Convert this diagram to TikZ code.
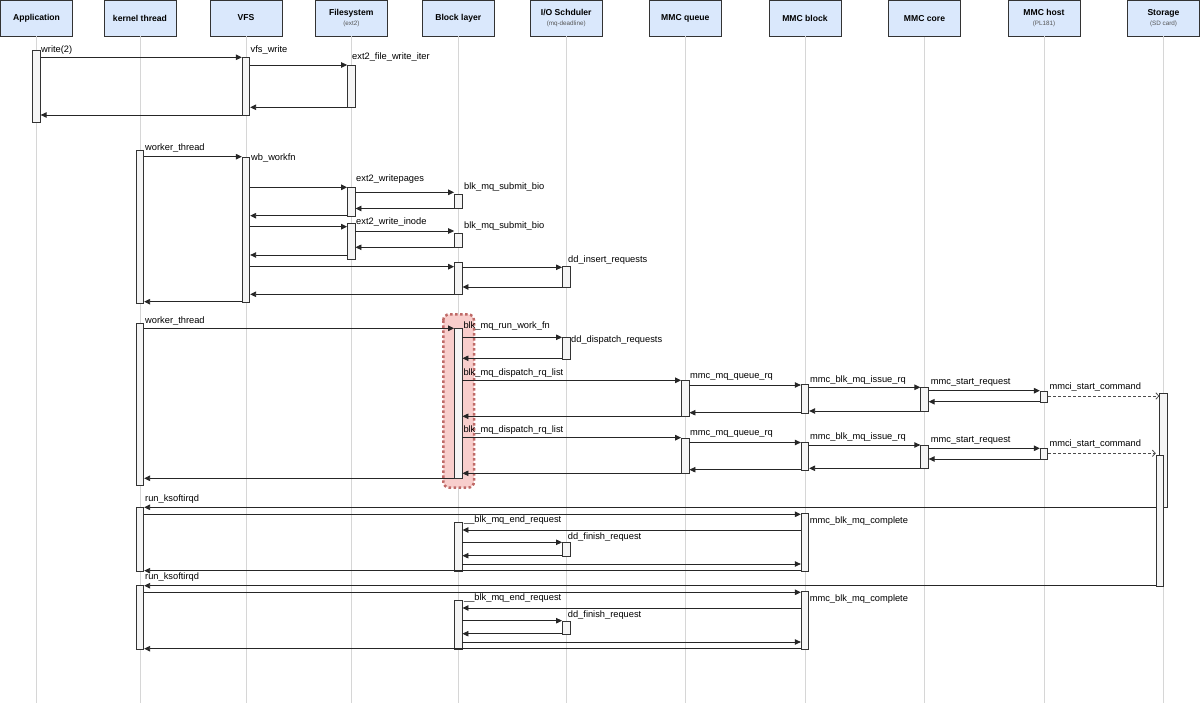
\documentclass[tikz,border=0pt]{standalone}
\usepackage{fontspec}
\setmainfont{Liberation Sans}
\usepackage{tikz}
\usetikzlibrary{arrows.meta,positioning}
\usepackage{xcolor}

\definecolor{headblue}{HTML}{DAE8FC}
\definecolor{edgegray}{HTML}{333333}
\definecolor{linegray}{HTML}{D6D6D6}
\definecolor{barfill}{HTML}{F5F5F5}
\definecolor{subgray}{HTML}{555555}
\definecolor{hired}{HTML}{BF6A67}
\definecolor{hifill}{HTML}{F8CECC}

\tikzstyle{head}=[draw=edgegray, fill=headblue, line width=0.8pt, minimum width=72pt, minimum height=36pt, inner sep=0pt, align=center, font=\fontsize{8.6}{10}\selectfont\bfseries]
\tikzstyle{lifeline}=[draw=linegray, line width=0.8pt]
\tikzstyle{bar}=[draw=edgegray, fill=barfill, line width=0.8pt, minimum width=7.5pt, inner sep=0pt, anchor=north]
\tikzstyle{msg}=[draw=black!85, line width=0.9pt, -{Triangle[length=6pt,width=5.5pt]}]
\tikzstyle{async}=[draw=black!70, line width=0.8pt, dash pattern=on 3pt off 2pt, -{Straight Barb[length=3pt,width=6.5pt]}]
\tikzstyle{call}=[anchor=west, inner sep=0pt, font=\fontsize{9.3}{11}\selectfont]
\tikzstyle{hilite}=[draw=hired, fill=hifill, rounded corners=6pt, line width=2.5pt, dash pattern=on 2.5pt off 2.5pt]

\newcommand{\headsub}[1]{{\fontsize{6.3}{7.5}\selectfont\mdseries\color{subgray}#1}}

\begin{document}
\begin{tikzpicture}[x=1pt,y=-1pt]
\useasboundingbox (0,0) rectangle (1200,703);

% heads
\node[head] (app) at (36.5,18) {Application};
\node[head] (kth) at (140,18) {kernel thread};
\node[head] (vfs) at (246,18) {VFS};
\node[head] (fs) at (351.3,18) {Filesystem\\\headsub{(ext2)}};
\node[head] (blk) at (458.3,18) {Block layer};
\node[head] (ios) at (566.2,18) {I/O Schduler\\\headsub{(mq-deadline)}};
\node[head] (mq) at (685.3,18) {MMC queue};
\node[head] (mb) at (805,18) {MMC block};
\node[head] (mc) at (924.5,18.5) {MMC core};
\node[head] (mh) at (1044,18) {MMC host\\\headsub{(PL181)}};
\node[head] (sd) at (1163.5,18) {Storage\\\headsub{(SD card)}};

\foreach \n in {app,kth,vfs,fs,blk,ios,mq,mb,mc,mh,sd}
    \draw[lifeline] (\n.south) -- (\n.south |- 0,703);

\draw[hilite] (443.3,314.3) rectangle (474,487.7);

% write(2)
\node[bar, minimum height=72pt] (a1) at (app.south |- 0,50) {};
\node[bar, minimum height=57.7pt] (v1) at (vfs.south |- 0,57.3) {};
\node[bar, minimum height=42.3pt] (f1) at (fs.south |- 0,65) {};

\draw[msg] (a1.east |- 0,57.3) -- (v1.west |- 0,57.3);
\draw[msg] (v1.east |- 0,65) -- (f1.west |- 0,65);
\draw[msg] (f1.west |- 0,107.3) -- (v1.east |- 0,107.3);
\draw[msg] (v1.west |- 0,115) -- (a1.east |- 0,115);

\node[call] at (41,50) {write(2)};
\node[call] at (250.5,50.5) {vfs\_write};
\node[call] at (352,57.3) {ext2\_file\_write\_iter};

% writeback
\node[bar, minimum height=153.3pt] (k1) at (kth.south |- 0,150) {};
\node[bar, minimum height=145pt] (v2) at (vfs.south |- 0,156.7) {};
\node[bar, minimum height=28.4pt] (f2) at (fs.south |- 0,187.3) {};
\node[bar, minimum height=14.5pt] (b1) at (blk.south |- 0,194) {};
\node[bar, minimum height=35.7pt] (f3) at (fs.south |- 0,223) {};
\node[bar, minimum height=14.2pt] (b2) at (blk.south |- 0,233.3) {};
\node[bar, minimum height=31.8pt] (b3) at (blk.south |- 0,262.5) {};
\node[bar, minimum height=21.6pt] (i1) at (ios.south |- 0,265.7) {};

\draw[msg] (k1.east |- 0,156.7) -- (v2.west |- 0,156.7);
\draw[msg] (v2.east |- 0,187.3) -- (f2.west |- 0,187.3);
\draw[msg] (f2.east |- 0,192.3) -- (b1.west |- 0,192.3);
\draw[msg] (b1.west |- 0,208.5) -- (f2.east |- 0,208.5);
\draw[msg] (f2.west |- 0,215.7) -- (v2.east |- 0,215.7);
\draw[msg] (v2.east |- 0,226.7) -- (f3.west |- 0,226.7);
\draw[msg] (f3.east |- 0,231) -- (b2.west |- 0,231);
\draw[msg] (b2.west |- 0,247.3) -- (f3.east |- 0,247.3);
\draw[msg] (f3.west |- 0,255) -- (v2.east |- 0,255);
\draw[msg] (v2.east |- 0,266.7) -- (b3.west |- 0,266.7);
\draw[msg] (b3.east |- 0,267.3) -- (i1.west |- 0,267.3);
\draw[msg] (i1.west |- 0,287) -- (b3.east |- 0,287);
\draw[msg] (b3.west |- 0,294.3) -- (v2.east |- 0,294.3);
\draw[msg] (v2.west |- 0,301.7) -- (k1.east |- 0,301.7);

\node[call] at (145,148.3) {worker\_thread};
\node[call] at (251,157.7) {wb\_workfn};
\node[call] at (356,179.3) {ext2\_writepages};
\node[call] at (464,186.7) {blk\_mq\_submit\_bio};
\node[call] at (356,222.3) {ext2\_write\_inode};
\node[call] at (464,226) {blk\_mq\_submit\_bio};
\node[call] at (568,260) {dd\_insert\_requests};

% dispatch
\node[bar, minimum height=161.7pt] (k2) at (kth.south |- 0,323.3) {};
\node[bar, minimum height=150.6pt] (b4) at (blk.south |- 0,327.7) {};
\node[bar, minimum height=21.4pt] (i2) at (ios.south |- 0,337.3) {};
\node[bar, minimum height=36pt] (q1) at (mq.south |- 0,380.3) {};
\node[bar, minimum height=28.7pt] (m1) at (mb.south |- 0,384) {};
\node[bar, minimum height=24.3pt] (c1) at (mc.south |- 0,386.7) {};
\node[bar, minimum height=11pt] (h1) at (mh.south |- 0,390.7) {};
\node[bar, minimum height=113.7pt] (s1) at (sd.south |- 0,393.3) {};
\node[bar, minimum height=35.6pt] (q2) at (mq.south |- 0,437.7) {};
\node[bar, minimum height=28pt] (m2) at (mb.south |- 0,441.7) {};
\node[bar, minimum height=23.3pt] (c2) at (mc.south |- 0,445) {};
\node[bar, minimum height=10.7pt] (h2) at (mh.south |- 0,448.3) {};
\node[bar, minimum height=130.4pt, xshift=-3.5pt] (s2) at (sd.south |- 0,455.3) {};

\draw[msg] (k2.east |- 0,328.3) -- (b4.west |- 0,328.3);
\draw[msg] (b4.east |- 0,337.3) -- (i2.west |- 0,337.3);
\draw[msg] (i2.west |- 0,358.3) -- (b4.east |- 0,358.3);
\draw[msg] (b4.east |- 0,380.3) -- (q1.west |- 0,380.3);
\draw[msg] (q1.east |- 0,385) -- (m1.west |- 0,385);
\draw[msg] (m1.east |- 0,387.3) -- (c1.west |- 0,387.3);
\draw[msg] (c1.east |- 0,390.7) -- (h1.west |- 0,390.7);
\draw[async] (h1.east |- 0,396) -- (s1.west |- 0,396);
\draw[msg] (h1.west |- 0,401.7) -- (c1.east |- 0,401.7);
\draw[msg] (c1.west |- 0,411) -- (m1.east |- 0,411);
\draw[msg] (m1.west |- 0,412.7) -- (q1.east |- 0,412.7);
\draw[msg] (q1.west |- 0,416.3) -- (b4.east |- 0,416.3);
\draw[msg] (b4.east |- 0,437.7) -- (q2.west |- 0,437.7);
\draw[msg] (q2.east |- 0,442.5) -- (m2.west |- 0,442.5);
\draw[msg] (m2.east |- 0,445) -- (c2.west |- 0,445);
\draw[msg] (c2.east |- 0,448.3) -- (h2.west |- 0,448.3);
\draw[async] (h2.east |- 0,453.3) -- (s2.west |- 0,453.3);
\draw[msg] (h2.west |- 0,459) -- (c2.east |- 0,459);
\draw[msg] (c2.west |- 0,468.3) -- (m2.east |- 0,468.3);
\draw[msg] (m2.west |- 0,469.7) -- (q2.east |- 0,469.7);
\draw[msg] (q2.west |- 0,473.3) -- (b4.east |- 0,473.3);
\draw[msg] (b4.west |- 0,478.3) -- (k2.east |- 0,478.3);

\node[call] at (145,320.7) {worker\_thread};
\node[call] at (463.3,326.3) {blk\_mq\_run\_work\_fn};
\node[call] at (571,340) {dd\_dispatch\_requests};
\node[call] at (463.3,372.7) {blk\_mq\_dispatch\_rq\_list};
\node[call] at (690,376.7) {mmc\_mq\_queue\_rq};
\node[call] at (810,380) {mmc\_blk\_mq\_issue\_rq};
\node[call] at (930.7,382.3) {mmc\_start\_request};
\node[call] at (1049.3,386.7) {mmci\_start\_command};
\node[call] at (463.3,429.7) {blk\_mq\_dispatch\_rq\_list};
\node[call] at (690,434) {mmc\_mq\_queue\_rq};
\node[call] at (810,437.3) {mmc\_blk\_mq\_issue\_rq};
\node[call] at (930.7,440) {mmc\_start\_request};
\node[call] at (1049.3,444) {mmci\_start\_command};

% completion
\node[bar, minimum height=63.4pt] (k3) at (kth.south |- 0,507.3) {};
\node[bar, minimum height=57.4pt] (m3) at (mb.south |- 0,513.3) {};
\node[bar, minimum height=48.4pt] (b5) at (blk.south |- 0,522.3) {};
\node[bar, minimum height=13.4pt] (i3) at (ios.south |- 0,542.3) {};
\node[bar, minimum height=63.4pt] (k4) at (kth.south |- 0,585.3) {};
\node[bar, minimum height=57.4pt] (m4) at (mb.south |- 0,591.3) {};
\node[bar, minimum height=48.7pt] (b6) at (blk.south |- 0,600) {};
\node[bar, minimum height=13pt] (i4) at (ios.south |- 0,620.7) {};

\draw[msg] (s2.west |- 0,507.3) -- (k3.east |- 0,507.3);
\draw[msg] (k3.east |- 0,514.3) -- (m3.west |- 0,514.3);
\draw[msg] (m3.west |- 0,530) -- (b5.east |- 0,530);
\draw[msg] (b5.east |- 0,542.3) -- (i3.west |- 0,542.3);
\draw[msg] (i3.west |- 0,555.7) -- (b5.east |- 0,555.7);
\draw[msg] (b5.east |- 0,564) -- (m3.west |- 0,564);
\draw[msg] (m3.west |- 0,570.7) -- (k3.east |- 0,570.7);
\draw[msg] (s2.west |- 0,585.7) -- (k4.east |- 0,585.7);
\draw[msg] (k4.east |- 0,592.3) -- (m4.west |- 0,592.3);
\draw[msg] (m4.west |- 0,608) -- (b6.east |- 0,608);
\draw[msg] (b6.east |- 0,620.7) -- (i4.west |- 0,620.7);
\draw[msg] (i4.west |- 0,633.7) -- (b6.east |- 0,633.7);
\draw[msg] (b6.east |- 0,642) -- (m4.west |- 0,642);
\draw[msg] (m4.west |- 0,648.7) -- (k4.east |- 0,648.7);

\node[call] at (145,499.3) {run\_ksoftirqd};
\node[call] at (463.9,520) {\_\_blk\_mq\_end\_request};
\node[call] at (809.6,521) {mmc\_blk\_mq\_complete};
\node[call] at (567.7,536.7) {dd\_finish\_request};
\node[call] at (145,577.3) {run\_ksoftirqd};
\node[call] at (463.9,598.3) {\_\_blk\_mq\_end\_request};
\node[call] at (809.6,599) {mmc\_blk\_mq\_complete};
\node[call] at (567.7,614.7) {dd\_finish\_request};

\end{tikzpicture}
\end{document}
